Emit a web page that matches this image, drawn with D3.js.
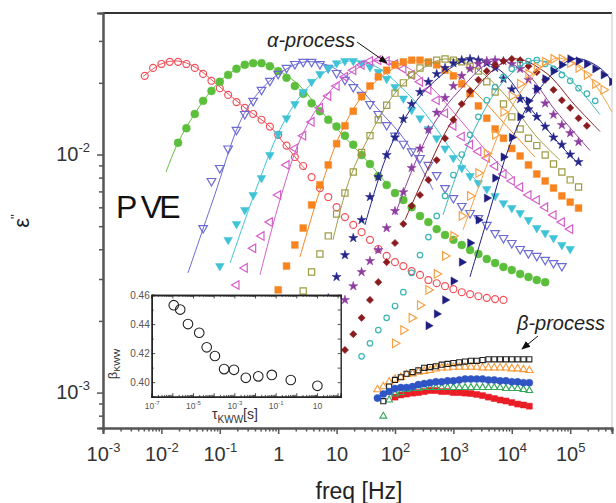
<!DOCTYPE html>
<html>
<head>
<meta charset="utf-8">
<script src="https://cdn.jsdelivr.net/npm/d3@7"></script>
<style>
  body { margin: 0; background: #fff; }
  svg text { font-family: "Liberation Sans", Arial, sans-serif; }
</style>
</head>
<body>
<div id="chart"></div>
<script>
// Measurement frequencies (Hz)
var freqs = [0.00518, 0.0072, 0.01, 0.0139, 0.0193, 0.0268, 0.0373, 0.0518, 0.072, 0.1,
  0.139, 0.193, 0.268, 0.373, 0.518, 0.72, 1, 1.39, 1.93, 2.68,
  3.73, 5.18, 7.2, 10, 13.9, 19.3, 26.8, 37.3, 51.8, 72,
  100, 139, 193, 268, 373, 518, 720, 1000, 1390, 1930,
  2680, 3730, 5180, 7200, 10000, 13900, 19300, 26800, 37300, 51800,
  72000, 100000, 139000, 193000, 268000, 373000, 518000];

// alpha-process eps'' values, each list starts at freqs[alphaStart[i]]
var epsRed = [0.0214, 0.0231, 0.0240, 0.0245, 0.0245, 0.0240, 0.0231, 0.0218, 0.0204, 0.0190, 0.0178, 0.0166, 0.0157, 0.0148, 0.0140, 0.0131, 0.0121, 0.0109, 0.00976, 0.00895, 0.00804, 0.00723, 0.00663, 0.00601, 0.00546, 0.00506, 0.00472, 0.00438, 0.00401, 0.00375, 0.00353, 0.00340, 0.00324, 0.00312, 0.00297, 0.00288, 0.00280, 0.00272, 0.00264, 0.00259, 0.00254, 0.00250, 0.00247, 0.00245];
var epsGreen = [0.0112, 0.0129, 0.0148, 0.0168, 0.0185, 0.0202, 0.0216, 0.0229, 0.0238, 0.0242, 0.0242, 0.0235, 0.0224, 0.0210, 0.0194, 0.0180, 0.0164, 0.0152, 0.0140, 0.0131, 0.0120, 0.0110, 0.00995, 0.00912, 0.00812, 0.00745, 0.00689, 0.00644, 0.00601, 0.00552, 0.00520, 0.00486, 0.00459, 0.00438, 0.00417, 0.00397, 0.00382, 0.00364, 0.00350, 0.00337, 0.00327, 0.00315, 0.00306, 0.00297, 0.00291];
var epsBlue = [0.00491, 0.00774, 0.00878, 0.0106, 0.0127, 0.0148, 0.0168, 0.0187, 0.0204, 0.0218, 0.0231, 0.0240, 0.0245, 0.0245, 0.0240, 0.0231, 0.0220, 0.0206, 0.0192, 0.0178, 0.0163, 0.0148, 0.0133, 0.0120, 0.0111, 0.0103, 0.00967, 0.00904, 0.00820, 0.00723, 0.00656, 0.00608, 0.00568, 0.00541, 0.00506, 0.00468, 0.00446, 0.00425, 0.00401, 0.00385, 0.00375, 0.00361, 0.00350, 0.00340];
var epsCyan = [0.00340, 0.00438, 0.00511, 0.00585, 0.00676, 0.00796, 0.00995, 0.0122, 0.0142, 0.0163, 0.0183, 0.0202, 0.0218, 0.0231, 0.0242, 0.0247, 0.0247, 0.0242, 0.0233, 0.0222, 0.0208, 0.0192, 0.0172, 0.0154, 0.0142, 0.0128, 0.0117, 0.0106, 0.00967, 0.00878, 0.00812, 0.00759, 0.00716, 0.00670, 0.00625, 0.00596, 0.00568, 0.00531, 0.00491, 0.00468, 0.00446, 0.00417, 0.00401];
var epsPink = [0.00283, 0.00334, 0.00404, 0.00455, 0.00520, 0.00676, 0.00904, 0.0106, 0.0120, 0.0137, 0.0157, 0.0176, 0.0194, 0.0212, 0.0226, 0.0238, 0.0247, 0.0249, 0.0247, 0.0240, 0.0229, 0.0216, 0.0202, 0.0187, 0.0169, 0.0149, 0.0132, 0.0119, 0.0110, 0.0103, 0.00967, 0.00895, 0.00828, 0.00774, 0.00730, 0.00676, 0.00644, 0.00601, 0.00557, 0.00520, 0.00486];
var epsOrange = [0.00270, 0.00340, 0.00417, 0.00491, 0.00614, 0.00745, 0.00904, 0.0111, 0.0132, 0.0152, 0.0175, 0.0194, 0.0212, 0.0226, 0.0238, 0.0245, 0.0249, 0.0249, 0.0245, 0.0238, 0.0226, 0.0214, 0.0198, 0.0180, 0.0160, 0.0142, 0.0128, 0.0117, 0.0106, 0.00986, 0.00904, 0.00828, 0.00774, 0.00723, 0.00670, 0.00631, 0.00596];
var epsOlive = [0.00226, 0.00267, 0.00321, 0.00382, 0.00455, 0.00562, 0.00689, 0.00844, 0.0102, 0.0120, 0.0140, 0.0161, 0.0181, 0.0200, 0.0216, 0.0231, 0.0242, 0.0249, 0.0252, 0.0249, 0.0245, 0.0235, 0.0224, 0.0202, 0.0183, 0.0163, 0.0144, 0.0128, 0.0117, 0.0109, 0.00995, 0.00912, 0.00844, 0.00782, 0.00730];
var epsNavyStar = [0.00206, 0.00249, 0.00306, 0.00378, 0.00446, 0.00531, 0.00663, 0.00804, 0.00995, 0.0118, 0.0141, 0.0163, 0.0183, 0.0202, 0.0218, 0.0231, 0.0242, 0.0249, 0.0252, 0.0249, 0.0242, 0.0231, 0.0208, 0.0188, 0.0171, 0.0155, 0.0144, 0.0131, 0.0118, 0.0110, 0.0100, 0.0093];
var epsPurpleStar = [0.00210, 0.00245, 0.00280, 0.00321, 0.00357, 0.00397, 0.00491, 0.00579, 0.00695, 0.00878, 0.0106, 0.0127, 0.0150, 0.0173, 0.0194, 0.0214, 0.0229, 0.0240, 0.0247, 0.0249, 0.0247, 0.0240, 0.0229, 0.0206, 0.0187, 0.0164, 0.0147, 0.0133, 0.0123, 0.0113];
var epsWine = [0.00151, 0.00176, 0.00206, 0.00245, 0.00291, 0.00353, 0.00425, 0.00511, 0.00608, 0.00676, 0.00782, 0.00948, 0.0117, 0.0140, 0.0163, 0.0185, 0.0206, 0.0224, 0.0238, 0.0247, 0.0252, 0.0249, 0.0235, 0.0222, 0.0206, 0.0187, 0.0169, 0.0157, 0.0142, 0.0132];
var epsTeal = [0.00142, 0.00161, 0.00183, 0.00206, 0.00231, 0.00264, 0.00318, 0.00378, 0.00450, 0.00552, 0.00670, 0.00820, 0.0100, 0.0121, 0.0144, 0.0169, 0.0192, 0.0212, 0.0229, 0.0240, 0.0247, 0.0249, 0.0240, 0.0229, 0.0216, 0.0204, 0.0190, 0.0180, 0.0168];
var epsApricot = [0.00161, 0.00183, 0.00206, 0.00233, 0.00270, 0.00315, 0.00375, 0.00455, 0.00552, 0.00670, 0.00836, 0.0101, 0.0121, 0.0151, 0.0176, 0.0198, 0.0218, 0.0233, 0.0245, 0.0252, 0.0252, 0.0242, 0.0231, 0.0216, 0.0198, 0.0187];
var epsNavyTri = [0.00191, 0.00214, 0.00245, 0.00294, 0.00353, 0.00425, 0.00531, 0.00656, 0.00796, 0.00976, 0.0118, 0.0144, 0.0168, 0.0189, 0.0208, 0.0224, 0.0238, 0.0252, 0.0247, 0.0240, 0.0229, 0.0216, 0.0202];
var alphaStart = [0, 4, 7, 9, 11, 16, 18, 21, 23, 24, 26, 30, 34];

// KWW fit curves [freq, eps'']
var fitRed = [[0.00481, 0.0212], [0.00984, 0.0240], [0.0192, 0.0247], [0.0376, 0.0233], [0.101, 0.0192], [0.270, 0.0157], [0.724, 0.0131], [1.31, 0.0110], [2.36, 0.00921], [2.99, 0.00861]];
var fitGreen = [[0.0120, 0.00844], [0.0192, 0.0112], [0.0376, 0.0149], [0.0735, 0.0187], [0.150, 0.0220], [0.329, 0.0242], [0.594, 0.0240], [1.07, 0.0224], [2.36, 0.0194], [5.2, 0.0154], [13.9, 0.0118], [37.3, 0.00912], [82, 0.00723]];
var fitBlue = [[0.0285, 0.00318], [0.0796, 0.00663], [0.222, 0.0137], [0.451, 0.0181], [1.07, 0.0220], [2.88, 0.0245], [7.7, 0.0235], [20.7, 0.0198], [55.3, 0.0152], [148, 0.0115], [448, 0.00710]];
var fitCyan = [[0.150, 0.00350], [0.401, 0.00695], [1.07, 0.0127], [2.36, 0.0175], [6.3, 0.0222], [16.3, 0.0247], [45.5, 0.0235], [122, 0.0194], [327, 0.0149], [1065, 0.00995], [2850, 0.00745]];
var fitPink = [[0.488, 0.00312], [1.07, 0.00644], [2.36, 0.0115], [5.2, 0.0163], [13.9, 0.0212], [51.2, 0.0249], [148, 0.0235], [397, 0.0194], [1300, 0.0140], [4240, 0.00995], [10500, 0.00804]];
var fitOrange = [[2.36, 0.00371], [5.2, 0.00710], [11.4, 0.0121], [25.2, 0.0171], [67.4, 0.0218], [229, 0.0249], [718, 0.0231], [2340, 0.0183], [7650, 0.0134], [24900, 0.00976]];
var fitOlive = [[8.67, 0.00438], [16.9, 0.00796], [37.3, 0.0121], [100, 0.0181], [268, 0.0226], [718, 0.0252], [2340, 0.0231], [7650, 0.0178], [24900, 0.0121], [66800, 0.00948]];
var fitNavyStar = [[30.6, 0.00506], [67.4, 0.00948], [148, 0.0142], [397, 0.0195], [1920, 0.0252], [6280, 0.0226], [20500, 0.0157], [66800, 0.0110], [147000, 0.00904]];
var fitPurpleStar = [[100, 0.00557], [220, 0.00921], [484, 0.0137], [1300, 0.0187], [5150, 0.0249], [16800, 0.0222], [54800, 0.0154], [218000, 0.0104]];
var fitWine = [[148, 0.00531], [327, 0.00820], [718, 0.0123], [1920, 0.0178], [10100, 0.0252], [37000, 0.0222], [121000, 0.0161], [324000, 0.0125]];
var fitTeal = [[664, 0.00557], [1300, 0.00904], [2850, 0.0142], [7650, 0.0206], [24900, 0.0249], [81500, 0.0216], [324000, 0.0147]];
var fitApricot = [[1460, 0.00482], [3470, 0.00861], [7650, 0.0140], [20500, 0.0206], [59400, 0.0254], [178000, 0.0222], [520000, 0.0151]];
var fitNavyTri = [[1920, 0.00306], [4240, 0.00585], [9310, 0.0110], [24900, 0.0178], [112000, 0.0252], [324000, 0.0231], [585000, 0.0194]];

// beta-process
var betaFreqs = [50.1, 63.1, 79.4, 100, 126, 158, 200, 251, 316, 398, 501, 631, 794, 1000, 1259, 1585, 1995, 2512, 3162, 3981, 5012, 6310, 7943, 10000, 12589, 15849, 19953];
var betaBlack = [0.00092, 0.00106, 0.00113, 0.00116, 0.00120, 0.00122, 0.00124, 0.00127, 0.00128, 0.00129, 0.00131, 0.00132, 0.00133, 0.00134, 0.00135, 0.00136, 0.00136, 0.00137, 0.00138, 0.00138, 0.00138, 0.00138, 0.00138, 0.00138, 0.00138, 0.00138];
var betaOrange = [0.00103, 0.00106, 0.00111, 0.00114, 0.00116, 0.00119, 0.00120, 0.00122, 0.00123, 0.00124, 0.00126, 0.00127, 0.00127, 0.00128, 0.00128, 0.00128, 0.00128, 0.00128, 0.00127, 0.00127, 0.00127, 0.00127, 0.00127, 0.00126, 0.00126, 0.00125, 0.00124];
var betaBlue = [0.000948, 0.000986, 0.00101, 0.00104, 0.00105, 0.00105, 0.00106, 0.00108, 0.00109, 0.00110, 0.00111, 0.00111, 0.00112, 0.00112, 0.00113, 0.00114, 0.00114, 0.00114, 0.00114, 0.00113, 0.00113, 0.00112, 0.00112, 0.00111, 0.00111, 0.00110, 0.00110];
var betaGreen = [0.000796, 0.000931, 0.000986, 0.00100, 0.00103, 0.00104, 0.00104, 0.00105, 0.00105, 0.00105, 0.00105, 0.00105, 0.00105, 0.00105, 0.00105, 0.00105, 0.00105, 0.00105, 0.00105, 0.00105, 0.00105, 0.00104, 0.00104, 0.00104, 0.00103, 0.00102];
var betaRed = [0.000957, 0.000977, 0.000986, 0.000995, 0.00100, 0.00101, 0.00102, 0.00102, 0.00101, 0.00101, 0.00100, 0.00100, 0.000995, 0.000991, 0.000982, 0.000971, 0.000957, 0.000944, 0.000931, 0.000922, 0.000908, 0.000895, 0.000887, 0.000877];
var betaStart = [1, 0, 0, 1, 3];

// inset: stretching parameter vs relaxation time
var tauKWW = [1.17e-6, 2.4e-6, 5.7e-6, 2.0e-5, 4.6e-5, 1.15e-4, 3.2e-4, 9.6e-4, 3.6e-3, 0.0144, 0.065, 0.54, 10.5];
var betaKWW = [0.453, 0.450, 0.440, 0.434, 0.424, 0.418, 0.409, 0.4085, 0.403, 0.404, 0.405, 0.4015, 0.3975];

// tick labels
var xTickValues = [1e-3, 1e-2, 1e-1, 1, 10, 1e2, 1e3, 1e4, 1e5];
var yTickValues = [1e-3, 1e-2];
var insetXTicks = [1e-7, 1e-5, 1e-3, 1e-1, 10];
var insetYTicks = [0.40, 0.42, 0.44, 0.46];

// series styles
var alphaEps = [epsRed, epsGreen, epsBlue, epsCyan, epsPink, epsOrange, epsOlive, epsNavyStar, epsPurpleStar, epsWine, epsTeal, epsApricot, epsNavyTri];
var alphaFits = [fitRed, fitGreen, fitBlue, fitCyan, fitPink, fitOrange, fitOlive, fitNavyStar, fitPurpleStar, fitWine, fitTeal, fitApricot, fitNavyTri];
var alphaColors = ["#f2505a", "#5cbf3c", "#6b6bd3", "#3fc3d6", "#d35fc9", "#f7841f", "#9d9c45", "#25258a", "#8d3c9f", "#8a1c1f", "#3db5b5", "#f7a247", "#1d1d83"];
var alphaShapes = ["circle", "circle", "triangle", "triangle", "triangle", "square", "square", "star", "star", "square", "circle", "triangle", "triangle"];
var alphaFilled = [false, true, false, true, false, true, false, true, true, true, false, false, true];
var alphaRotate = [0, 0, 180, 180, -90, 0, 0, 0, 0, 45, 0, 90, 90];
var alphaSize = [38, 50, 32, 32, 32, 46, 38, 26, 26, 26, 24, 32, 30];

var betaSeries = [betaBlack, betaOrange, betaBlue, betaGreen, betaRed];
var betaColors = ["#222222", "#f79a3a", "#2f55c4", "#35a85a", "#ea1d26"];
var betaShapes = ["square", "triangle", "circle", "triangle", "square"];
var betaFilled = [false, false, true, false, true];
var betaSize = [26, 24, 40, 20, 36];
var betaOrder = [4, 3, 1, 0, 2];

var svgWidth = 616;
var svgHeight = 503;
var margin = { top: 13, right: 4, bottom: 75, left: 103 };
var width = svgWidth - margin.left - margin.right;
var height = svgHeight - margin.top - margin.bottom;

var svg = d3.select("#chart").append("svg")
  .attr("width", svgWidth)
  .attr("height", svgHeight);

var defs = svg.append("defs");
defs.append("clipPath").attr("id", "plotclip")
  .append("rect").attr("width", width).attr("height", height);
defs.append("marker").attr("id", "arrowhead")
  .attr("viewBox", "0 0 10 10").attr("refX", 9).attr("refY", 5)
  .attr("markerWidth", 9).attr("markerHeight", 9).attr("orient", "auto")
  .attr("markerUnits", "userSpaceOnUse")
  .append("path").attr("d", "M0,1 L10,5 L0,9 Z").attr("fill", "#111");

var chartGroup = svg.append("g")
  .attr("transform", `translate(${margin.left}, ${margin.top})`);

var xLogScale = d3.scaleLog().domain([1e-3, 5.2e5]).range([0, width]);
var yLogScale = d3.scaleLog().domain([0.0393, 7.1e-4]).range([0, height]);

function minorTicks(scale) {
  var dom = scale.domain(), lo = Math.min(dom[0], dom[1]), hi = Math.max(dom[0], dom[1]);
  var out = [];
  for (var e = Math.floor(Math.log10(lo)); e <= Math.ceil(Math.log10(hi)); e++) {
    for (var m = 2; m <= 9; m++) {
      var v = m * Math.pow(10, e);
      if (v >= lo && v <= hi) out.push(v);
    }
  }
  return out;
}

function powLabel(sel, v, big, small) {
  var e = Math.round(Math.log10(v));
  sel.text(null);
  if (e === 0) { sel.text("1"); return; }
  if (e === 1) { sel.text("10"); return; }
  sel.append("tspan").text("10");
  sel.append("tspan").attr("dy", -big * 0.45).attr("font-size", small + "px").text(e);
}

function styleAxis(g) {
  g.select(".domain").attr("stroke", "#555").attr("stroke-width", 2);
  g.selectAll(".tick line").attr("stroke", "#555").attr("stroke-width", 1.5);
  g.selectAll(".tick text").attr("fill", "#333").attr("font-family", "Liberation Sans, Arial, sans-serif");
}

// frame top / right
chartGroup.append("line").attr("x1", 0).attr("x2", width).attr("y1", 0).attr("y2", 0)
  .attr("stroke", "#333").attr("stroke-width", 2);
chartGroup.append("line").attr("x1", width).attr("x2", width).attr("y1", 0).attr("y2", height)
  .attr("stroke", "#c8c8c8").attr("stroke-width", 1);

// plotted data
var plot = chartGroup.append("g").attr("clip-path", "url(#plotclip)");

var fitLine = d3.line()
  .x(d => xLogScale(d[0]))
  .y(d => yLogScale(d[1]))
  .curve(d3.curveCatmullRom.alpha(0.5));

function symbolPath(shape, size) {
  var t = { circle: d3.symbolCircle, triangle: d3.symbolTriangle, square: d3.symbolSquare, star: d3.symbolStar }[shape];
  return d3.symbol().type(t).size(size)();
}

alphaEps.forEach(function (eps, si) {
  var color = alphaColors[si];
  plot.append("path").datum(alphaFits[si])
    .attr("d", fitLine)
    .attr("fill", "none")
    .attr("stroke", color)
    .attr("stroke-width", 1);

  var pts = eps.map((e, i) => ({ f: freqs[alphaStart[si] + i], e: e }));
  plot.append("g").selectAll("path")
    .data(pts)
    .enter()
    .append("path")
    .attr("transform", d => `translate(${xLogScale(d.f)},${yLogScale(d.e)}) rotate(${alphaRotate[si]})`)
    .attr("d", symbolPath(alphaShapes[si], alphaSize[si]))
    .attr("fill", alphaFilled[si] ? color : "none")
    .attr("stroke", color)
    .attr("stroke-width", alphaFilled[si] ? 0.5 : 1.2);
});

betaOrder.forEach(function (si) {
  var color = betaColors[si];
  var pts = betaSeries[si].map((e, i) => ({ f: betaFreqs[betaStart[si] + i], e: e }));
  plot.append("g").selectAll("path")
    .data(pts)
    .enter()
    .append("path")
    .attr("transform", d => `translate(${xLogScale(d.f)},${yLogScale(d.e)})`)
    .attr("d", symbolPath(betaShapes[si], betaSize[si]))
    .attr("fill", betaFilled[si] ? color : "none")
    .attr("stroke", color)
    .attr("stroke-width", betaFilled[si] ? 0.5 : 1.1);
});

// axes
var bottomMinor = d3.axisBottom(xLogScale).tickValues(minorTicks(xLogScale)).tickSize(3.5).tickFormat("");
var bottomAxis = d3.axisBottom(xLogScale).tickValues(xTickValues).tickSize(6).tickPadding(13);
var leftMinor = d3.axisLeft(yLogScale).tickValues(minorTicks(yLogScale)).tickSize(4).tickFormat("");
var leftAxis = d3.axisLeft(yLogScale).tickValues(yTickValues).tickSize(6).tickPadding(7);

chartGroup.append("g").attr("transform", `translate(0,${height})`).call(bottomMinor).call(styleAxis);
var xg = chartGroup.append("g").attr("transform", `translate(0,${height})`).call(bottomAxis).call(styleAxis);
xg.selectAll(".tick text").attr("font-size", "20px").each(function (d) { powLabel(d3.select(this), d, 20, 13); });

chartGroup.append("g").call(leftMinor).call(styleAxis);
var yg = chartGroup.append("g").call(leftAxis).call(styleAxis);
yg.selectAll(".tick text").attr("font-size", "20px").each(function (d) { powLabel(d3.select(this), d, 20, 13); });

// axis labels
var yLab = svg.append("text")
  .attr("transform", "translate(29, 221) rotate(-90)")
  .attr("text-anchor", "middle")
  .attr("font-size", "22px")
  .attr("fill", "#222");
yLab.append("tspan").text("ε");
yLab.append("tspan").attr("dx", -1).attr("dy", -9).attr("font-size", "12px").text("''");

svg.append("text")
  .attr("x", 359).attr("y", 499)
  .attr("text-anchor", "middle")
  .attr("font-size", "23px")
  .attr("fill", "#222")
  .text("freq [Hz]");

// PVE label
var pve = svg.append("text").attr("x", 116).attr("y", 218).attr("font-size", "32px").attr("fill", "#111");
pve.append("tspan").text("P");
pve.append("tspan").attr("dx", 3.5).attr("letter-spacing", -3).text("VE");

// process annotations
svg.append("text").attr("x", 267).attr("y", 47)
  .attr("font-size", "20px").attr("font-style", "italic").attr("fill", "#222")
  .text("α-process");
svg.append("line").attr("x1", 357).attr("y1", 42).attr("x2", 387).attr("y2", 63)
  .attr("stroke", "#111").attr("stroke-width", 1).attr("marker-end", "url(#arrowhead)");

svg.append("text").attr("x", 517).attr("y", 330)
  .attr("font-size", "20px").attr("font-style", "italic").attr("fill", "#222")
  .text("β-process");
svg.append("line").attr("x1", 538).attr("y1", 336).attr("x2", 522).attr("y2", 349)
  .attr("stroke", "#111").attr("stroke-width", 1).attr("marker-end", "url(#arrowhead)");

// inset
var insetW = 189, insetH = 101.7;
var inset = svg.append("g").attr("transform", "translate(151.7, 295)");
inset.append("rect").attr("width", insetW).attr("height", insetH)
  .attr("fill", "#fff").attr("stroke", "none");

var xInset = d3.scaleLog().domain([1e-7, 141]).range([0, insetW]);
var yInset = d3.scaleLinear().domain([0.39, 0.46]).range([insetH, 0]);

function styleInset(g) {
  g.select(".domain").attr("stroke", "#222").attr("stroke-width", 1.4);
  g.selectAll(".tick line").attr("stroke", "#222").attr("stroke-width", 0.8);
  g.selectAll(".tick text").attr("fill", "#555").attr("font-family", "Liberation Sans, Arial, sans-serif");
}

var insetMinorX = minorTicks(xInset);
var insetDecades = [1e-7, 1e-6, 1e-5, 1e-4, 1e-3, 1e-2, 1e-1, 1, 10, 100];
inset.append("g").attr("transform", `translate(0,${insetH})`)
  .call(d3.axisBottom(xInset).tickValues(insetMinorX).tickSize(-1.8).tickFormat("")).call(styleInset);
inset.append("g").attr("transform", `translate(0,${insetH})`)
  .call(d3.axisBottom(xInset).tickValues(insetDecades).tickSize(-3.5).tickFormat("")).call(styleInset);
var ixg = inset.append("g").attr("transform", `translate(0,${insetH})`)
  .call(d3.axisBottom(xInset).tickValues(insetXTicks).tickSize(0).tickPadding(6)).call(styleInset);
ixg.select(".domain").remove();
ixg.selectAll(".tick text").attr("font-size", "8.5px").each(function (d) { powLabel(d3.select(this), d, 8.5, 6); });

inset.append("g")
  .call(d3.axisTop(xInset).tickValues(insetMinorX).tickSize(-1.8).tickFormat("")).call(styleInset);
inset.append("g")
  .call(d3.axisTop(xInset).tickValues(insetDecades).tickSize(-3.5).tickFormat("")).call(styleInset);

var iyg = inset.append("g")
  .call(d3.axisLeft(yInset).tickValues(insetYTicks).tickSize(-3.5).tickPadding(2).tickFormat(d3.format(".2f"))).call(styleInset);
iyg.selectAll(".tick text").attr("font-size", "10px");
inset.append("g")
  .call(d3.axisLeft(yInset).tickValues([0.41, 0.43, 0.45]).tickSize(-2).tickFormat("")).call(styleInset);
inset.append("g").attr("transform", `translate(${insetW},0)`)
  .call(d3.axisRight(yInset).tickValues([0.40, 0.41, 0.42, 0.43, 0.44, 0.45, 0.46]).tickSize(-3).tickFormat("")).call(styleInset);

inset.selectAll("circle.kww")
  .data(tauKWW)
  .enter()
  .append("circle")
  .attr("class", "kww")
  .attr("cx", d => xInset(d))
  .attr("cy", (d, i) => yInset(betaKWW[i]))
  .attr("r", 4.8)
  .attr("fill", "none")
  .attr("stroke", "#222")
  .attr("stroke-width", 1.1);

var bLab = svg.append("text")
  .attr("transform", "translate(117, 364) rotate(-90)")
  .attr("text-anchor", "middle")
  .attr("font-size", "13px")
  .attr("fill", "#333");
bLab.append("tspan").text("β");
bLab.append("tspan").attr("dy", 3).attr("font-size", "9px").text("KWW");

var tLab = svg.append("text")
  .attr("x", 212).attr("y", 419)
  .attr("font-size", "14px")
  .attr("fill", "#333");
tLab.append("tspan").text("τ");
tLab.append("tspan").attr("dy", 4).attr("font-size", "10px").text("KWW");
tLab.append("tspan").attr("dy", -4).text("[s]");
</script>
</body>
</html>
